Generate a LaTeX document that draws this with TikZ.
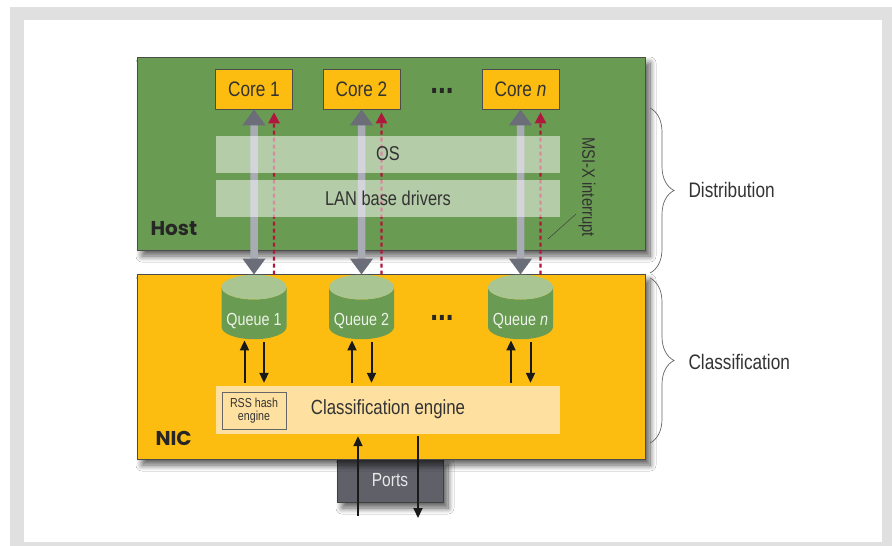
\documentclass[tikz,border=0pt]{standalone}
\usepackage{fontspec}
\setmainfont{Liberation Sans}[FakeStretch=0.82]
\newfontfamily\blockfont{Poppins}
\usetikzlibrary{arrows.meta,positioning,shapes.geometric,shadows.blur,decorations.pathreplacing}

\definecolor{hostgreen}{HTML}{699B52}
\definecolor{nicyellow}{HTML}{FDBD10}
\definecolor{enginefill}{HTML}{FEE0A0}
\definecolor{queuetop}{HTML}{A8C592}
\definecolor{portgray}{HTML}{5F6068}
\definecolor{shaftgray}{HTML}{A9ABB5}
\definecolor{headgray}{HTML}{6B6D78}
\definecolor{msired}{HTML}{B0173C}
\definecolor{textgray}{HTML}{333333}
\definecolor{framegray}{HTML}{DFE0DF}

\tikzset{
  layer/.style={draw=black!70, line width=0.6pt,
    blur shadow={shadow xshift=5pt, shadow yshift=-6pt, shadow blur radius=6pt, shadow blur steps=10, shadow opacity=65}},
  corebox/.style={draw=black!70, line width=0.6pt, fill=nicyellow, minimum width=77pt, minimum height=40pt,
    text=textgray, font=\fontsize{21}{24}\selectfont},
  band/.style={fill=white, fill opacity=0.5, text opacity=1, minimum width=344pt, minimum height=37pt,
    text=textgray, font=\fontsize{20}{24}\selectfont},
  queue/.style={cylinder, shape border rotate=90, aspect=0.4, cylinder uses custom fill,
    cylinder body fill=hostgreen, cylinder end fill=queuetop, minimum width=65pt, minimum height=61pt,
    text height=22pt, text depth=4pt,
    text=white!88!hostgreen, font=\fontsize{17.5}{20}\selectfont},
  dots/.style={font=\bfseries\fontsize{34}{36}\selectfont, text=black!85},
  bus/.style={line width=7.5pt, draw=shaftgray,
    {Triangle[length=16pt,width=22pt,color=headgray]}-{Triangle[length=16pt,width=22pt,color=headgray]}},
  irq/.style={draw=msired, line width=2.4pt, dash pattern=on 4pt off 3pt, -{Triangle[length=11pt,width=11pt]}},
  flow/.style={draw=black!90, line width=2pt, -{Triangle[length=10pt,width=9pt]}},
  bracket/.style={draw=black!60, line width=0.7pt, decorate, decoration={brace, amplitude=24pt}},
  sidelabel/.style={anchor=west, text=textgray, font=\fontsize{21}{24}\selectfont},
  blocklabel/.style={anchor=west, text=black!85, font=\blockfont\bfseries\fontsize{20}{22}\selectfont},
}

\begin{document}
\begin{tikzpicture}[x=1pt,y=-1pt]
  \useasboundingbox (0,0) rectangle (892,546);
  % frame
  \fill[framegray] (10,7) rectangle (892,546);
  \fill[white] (24,20) rectangle (882,542);

  % ports sit under the NIC
  \node[layer, fill=portgray, draw=black!75, minimum width=106pt, minimum height=44pt,
        text=white!85!portgray, font=\fontsize{19}{22}\selectfont] (ports) at (390,480) {Ports};

  % host and NIC
  \node[layer, fill=hostgreen, minimum width=508pt, minimum height=193pt] (host) at (391,153.5) {};
  \node[layer, fill=nicyellow, minimum width=508pt, minimum height=185pt] (nic) at (391,366.5) {};
  \node[blocklabel] (hostlabel) at (147,229) {Host};
  \node[blocklabel] (niclabel) at (152,438) {NIC};

  % cores
  \node[corebox] (core1) at (254,89) {Core 1};
  \node[corebox] (core2) at (361.5,89) {Core 2};
  \node[corebox] (coren) at (520.5,89) {Core \textit{n}};
  \node[dots] (coredots) at (442,91) {...};

  % queues
  \node[queue] (q1) at (254,316) {Queue 1};
  \node[queue] (q2) at (361.5,316) {Queue 2};
  \node[queue] (qn) at (520.5,316) {Queue \textit{n}};
  \node[dots] (queuedots) at (442,318) {...};

  % classification engine
  \node[fill=enginefill, minimum width=344pt, minimum height=48pt] (engine) at (388,410) {};
  \node[text=textgray, font=\fontsize{20.5}{24}\selectfont] (enginelabel) at (388,409) {Classification engine};
  \node[draw=black!60, line width=0.6pt, fill=enginefill, minimum width=64pt, minimum height=37pt, align=center,
        text=textgray, font=\fontsize{13}{13.5}\selectfont] (rss) at (254,410.5) {RSS hash\\engine};

  % core <-> queue
  \foreach \c/\q in {core1/q1, core2/q2, coren/qn} {
    \draw[bus] (\c.south) -- (\q.north);
    \draw[irq, shorten >=3pt] ([xshift=20pt]\q.north) -- ([xshift=20pt]\c.south);
  }

  % OS layers
  \node[band] (os) at (388,154) {OS};
  \node[band] (lan) at (388,198.5) {LAN base drivers};

  % queue <-> engine
  \foreach \q in {q1,q2,qn} {
    \draw[flow, shorten <=3pt, shorten >=1pt] ([xshift=-9.5pt]\q.south |- engine.north) -- ([xshift=-9.5pt]\q.south);
    \draw[flow, shorten <=3pt, shorten >=3pt] ([xshift=10pt]\q.south) -- ([xshift=10pt]\q.south |- engine.north);
  }

  % ports <-> engine
  \coordinate (portin) at (358,516);
  \coordinate (portout) at (418,518);
  \draw[flow, shorten >=2pt] (portin) -- (portin |- engine.south);
  \draw[flow, shorten <=2pt] (portout |- engine.south) -- (portout);

  % interrupt note
  \node[rotate=-90, text=textgray, font=\fontsize{18}{20}\selectfont] (msi) at (587,187) {MSI-X interrupt};
  \coordinate (msitick) at (548,239);
  \coordinate (msiend) at (576,214);
  \draw[black!75, line width=0.5pt] (msitick) -- (msiend);

  % braces
  \draw[bracket] (650,108) -- (650,273);
  \draw[bracket] (650,278) -- (650,443);
  \node[sidelabel] (distlabel) at (685,190) {Distribution};
  \node[sidelabel] (classlabel) at (685,362) {Classification};
\end{tikzpicture}
\end{document}
